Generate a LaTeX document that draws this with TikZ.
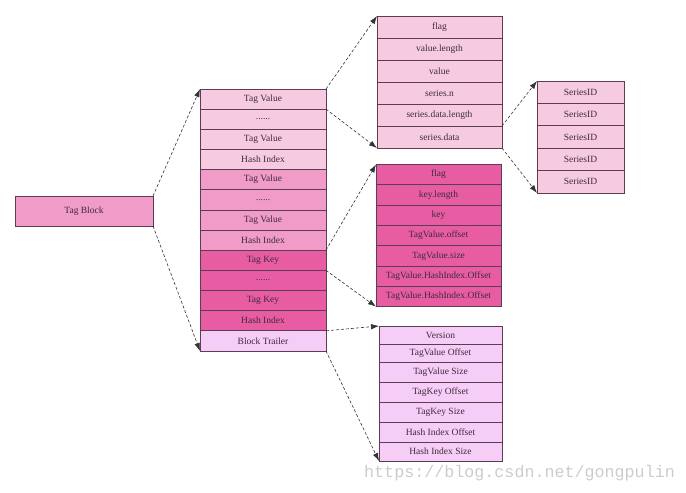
\documentclass[tikz,border=0pt]{standalone}
\usepackage{fontspec}
\setmainfont{Liberation Serif}
\newfontfamily\wmfont{Liberation Mono}
\usetikzlibrary{arrows.meta}
\definecolor{pkLight}{HTML}{F6CBE2}
\definecolor{pkMid}{HTML}{F09BC8}
\definecolor{pkDark}{HTML}{E85CA4}
\definecolor{pkLav}{HTML}{F6CDF7}
\definecolor{edgeC}{HTML}{5C3D52}
\definecolor{txtC}{HTML}{3D2B3A}
\tikzset{
  cell/.style={draw=edgeC, line width=0.8pt, anchor=north west, inner sep=0pt,
    text=txtC, font=\fontsize{9.5}{11}\selectfont, outer sep=0pt},
  conn/.style={draw=black!80, line width=0.6pt, dash pattern=on 3pt off 2pt,
    -{Latex[length=8pt,width=5.5pt]}},
}
\newcommand{\cellrow}[7]{% name, x, y, w, h, color, text
  \node[cell, fill=#6, minimum width=#4pt, minimum height=#5pt] (#1) at (#2,#3) {#7};}
\begin{document}
\begin{tikzpicture}[x=1pt,y=-1pt]
\useasboundingbox (0,0) rectangle (686,493);
% Tag Block
\cellrow{tb}{15}{196}{138}{30}{pkMid}{Tag Block}
% middle column
\cellrow{m1}{200}{89}{126}{20.15}{pkLight}{Tag Value}
\cellrow{m2}{200}{109.15}{126}{20.15}{pkLight}{......}
\cellrow{m3}{200}{129.3}{126}{20.15}{pkLight}{Tag Value}
\cellrow{m4}{200}{149.45}{126}{20.15}{pkLight}{Hash Index}
\cellrow{m5}{200}{169.6}{126}{20.15}{pkMid}{Tag Value}
\cellrow{m6}{200}{189.75}{126}{20.15}{pkMid}{......}
\cellrow{m7}{200}{209.9}{126}{20.15}{pkMid}{Tag Value}
\cellrow{m8}{200}{230.05}{126}{20.15}{pkMid}{Hash Index}
\cellrow{m9}{200}{250.2}{126}{20.15}{pkDark}{Tag Key}
\cellrow{m10}{200}{270.35}{126}{20.15}{pkDark}{......}
\cellrow{m11}{200}{290.5}{126}{20.15}{pkDark}{Tag Key}
\cellrow{m12}{200}{310.65}{126}{20.15}{pkDark}{Hash Index}
\cellrow{m13}{200}{330.8}{126}{20.15}{pkLav}{Block Trailer}
% top right column
\cellrow{t1}{377}{16}{125}{22}{pkLight}{flag}
\cellrow{t2}{377}{38}{125}{22}{pkLight}{value.length}
\cellrow{t3}{377}{60}{125}{22}{pkLight}{value}
\cellrow{t4}{377}{82}{125}{22}{pkLight}{series.n}
\cellrow{t5}{377}{104}{125}{22}{pkLight}{series.data.length}
\cellrow{t6}{377}{126}{125}{22}{pkLight}{series.data}
% series IDs
\cellrow{s1}{537}{81}{87}{22.4}{pkLight}{SeriesID}
\cellrow{s2}{537}{103.4}{87}{22.4}{pkLight}{SeriesID}
\cellrow{s3}{537}{125.8}{87}{22.4}{pkLight}{SeriesID}
\cellrow{s4}{537}{148.2}{87}{22.4}{pkLight}{SeriesID}
\cellrow{s5}{537}{170.6}{87}{22.4}{pkLight}{SeriesID}
% key column
\cellrow{k1}{376}{164.5}{125}{20.3}{pkDark}{flag}
\cellrow{k2}{376}{184.8}{125}{20.3}{pkDark}{key.length}
\cellrow{k3}{376}{205.1}{125}{20.3}{pkDark}{key}
\cellrow{k4}{376}{225.4}{125}{20.3}{pkDark}{TagValue.offset}
\cellrow{k5}{376}{245.7}{125}{20.3}{pkDark}{TagValue.size}
\cellrow{k6}{376}{266}{125}{20.3}{pkDark}{TagValue.HashIndex.Offset}
\cellrow{k7}{376}{286.3}{125}{20.3}{pkDark}{TagValue.HashIndex.Offset}
% trailer column
\cellrow{b1}{379}{326}{123}{18}{pkLav}{Version}
\cellrow{b2}{379}{344}{123}{18}{pkLav}{TagValue Offset}
\cellrow{b3}{379}{362}{123}{20}{pkLav}{TagValue Size}
\cellrow{b4}{379}{382}{123}{20}{pkLav}{TagKey Offset}
\cellrow{b5}{379}{402}{123}{20}{pkLav}{TagKey Size}
\cellrow{b6}{379}{422}{123}{20}{pkLav}{Hash Index Offset}
\cellrow{b7}{379}{442}{123}{19}{pkLav}{Hash Index Size}
% connectors
\draw[conn] (tb.north east) -- (m1.north west);
\draw[conn] (tb.south east) -- (m13.south west);
\draw[conn] (m1.north east) -- (t1.north west);
\draw[conn] (m1.south east) -- (t6.south west);
\draw[conn] (m8.south east) -- (k1.north west);
\draw[conn] (m9.south east) -- (k7.south west);
\draw[conn] (m12.south east) -- (b1.north west);
\draw[conn] (m13.south east) -- (b7.south west);
\draw[conn] (t5.south east) -- (s1.north west);
\draw[conn] (t6.south east) -- (s5.south west);
% watermark
\node[anchor=west, inner sep=0pt, text=black!20, font=\wmfont\fontsize{16.7}{18}\selectfont] (wm) at (364,473) {https://blog.csdn.net/gongpulin};
\end{tikzpicture}
\end{document}
